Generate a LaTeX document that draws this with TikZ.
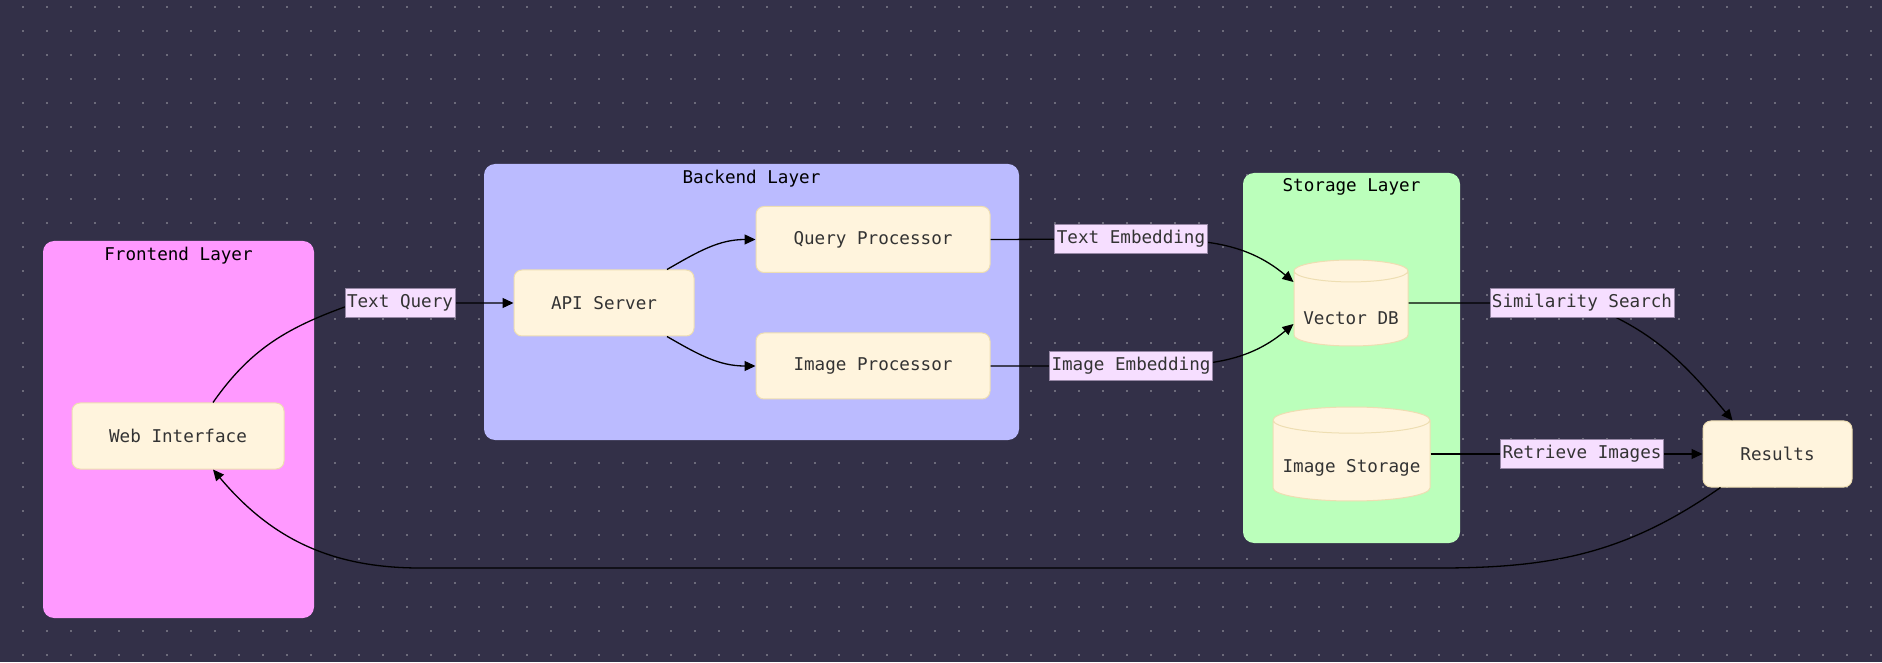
\documentclass[tikz,border=0pt]{standalone}
\usepackage{fontspec}
\newfontfamily\diagfont{DejaVu Sans Mono}
\usetikzlibrary{shapes}
\usetikzlibrary{positioning}
\usetikzlibrary{arrows.meta}
\definecolor{bgcol}{RGB}{51,48,72}
\definecolor{dotcol}{RGB}{108,106,122}
\definecolor{frontcol}{RGB}{255,153,255}
\definecolor{backcol}{RGB}{187,187,255}
\definecolor{storecol}{RGB}{187,255,187}
\definecolor{nodefill}{RGB}{255,244,221}
\definecolor{nodeline}{RGB}{238,222,178}
\definecolor{nodetext}{RGB}{51,51,51}
\definecolor{lblfill}{RGB}{246,222,255}
\definecolor{lblline}{RGB}{150,135,165}
\pgfdeclarelayer{base}
\pgfdeclarelayer{bg}
\pgfdeclarelayer{fg}
\pgfsetlayers{base,bg,main,fg}
\tikzstyle{layer} = [rectangle, rounded corners=11pt, inner sep=0pt, draw=none]
\tikzstyle{ltitle} = [font=\diagfont\fontsize{17.6}{20}\selectfont, text=black, inner sep=0pt]
\tikzstyle{proc} = [rectangle, rounded corners=8pt, fill=nodefill, draw=nodeline,
line width=1pt, minimum height=66pt, inner sep=0pt, text=nodetext,
font=\diagfont\fontsize{17.6}{20}\selectfont]
\tikzstyle{store} = [cylinder, shape border rotate=90, fill=nodefill, draw=nodeline,
line width=1pt, inner sep=0pt, text=nodetext, anchor=shape center,
text depth=4pt, font=\diagfont\fontsize{17.6}{20}\selectfont]
\tikzstyle{elabel} = [rectangle, fill=lblfill, draw=lblline, line width=0.8pt,
inner xsep=2pt, inner ysep=0pt, minimum height=29pt, text=nodetext,
font=\diagfont\fontsize{17.6}{20}\selectfont]
\tikzstyle{link} = [draw=black, line width=1.3pt]
\tikzset{>={Triangle[length=11pt,width=10pt]}}

\begin{document}
\begin{tikzpicture}[x=1pt, y=1pt]
  \useasboundingbox (0,0) rectangle (1882,662);
  \begin{pgfonlayer}{base}
    \fill[bgcol] (0,0) rectangle (1882,662);
    \foreach \x in {23,47,...,1871} {
      \foreach \y in {7,31,...,655} {
        \fill[dotcol] (\x-1,\y-1) rectangle +(2.2,2.2);
      }
    }
  \end{pgfonlayer}

  % layers
  \begin{pgfonlayer}{bg}
    \node[layer, fill=frontcol, minimum width=271pt, minimum height=377pt] (front) at (178.5,232.5) {};
    \node[layer, fill=backcol, minimum width=535pt, minimum height=276pt] (back) at (751.5,360) {};
    \node[layer, fill=storecol, minimum width=217pt, minimum height=370pt] (store) at (1351.5,304) {};
  \end{pgfonlayer}
  \node[ltitle] (fronttitle) at ([yshift=-15pt]front.north) {Frontend Layer};
  \node[ltitle] (backtitle) at ([yshift=-15pt]back.north) {Backend Layer};
  \node[ltitle] (storetitle) at ([yshift=-14pt]store.north) {Storage Layer};

  \node[proc, minimum width=212pt] (web) at (178,226) {Web Interface};
  \node[proc, minimum width=180pt] (api) at (604,359) {API Server};
  \node[proc, minimum width=234pt, right=61pt of api, yshift=63.5pt] (qp) {Query Processor};
  \node[proc, minimum width=234pt, right=61pt of api, yshift=-63pt] (ip) {Image Processor};
  \node[store, minimum width=114pt, minimum height=86pt, aspect=0.23, text height=36pt] (vdb) at (1351,359) {Vector DB};
  \node[store, minimum width=157pt, minimum height=94pt, aspect=0.19, text height=28pt] (imgs) at (1351.5,208) {Image Storage};
  \node[proc, minimum width=149pt] (res) at (1777.5,208) {Results};

  \begin{pgfonlayer}{fg}
    \node[elabel] (tq) at (400,359) {Text Query};
    \node[elabel] (temb) at (1131,423) {Text Embedding};
    \node[elabel] (iemb) at (1131,296) {Image Embedding};
    \node[elabel] (sim) at (1582,359) {Similarity Search};
    \node[elabel] (ret) at (1582,208) {Retrieve Images};
  \end{pgfonlayer}

  \coordinate (rb) at (1440,94);
  \coordinate (lb) at (420,94);

  \draw[link,->] ([xshift=35pt]web.north) to[out=55,in=200] ([yshift=-4pt]tq.west) -- (tq.center) -- (api.west);
  \draw[link,->] ([xshift=63pt]api.north) to[out=30,in=180] (qp.west);
  \draw[link,->] ([xshift=63pt]api.south) to[out=-30,in=180] (ip.west);
  \draw[link,->] (qp.east) -- (temb.center) to[out=0,in=140] ([yshift=21pt]vdb.west |- vdb.shape center);
  \draw[link,->] (ip.east) -- (iemb.center) to[out=0,in=220] ([yshift=-21pt]vdb.west |- vdb.shape center);
  \draw[link,->] (vdb.east |- vdb.shape center) -- (sim.west |- vdb.shape center) -- (sim.center) to[out=-20,in=130] ([xshift=-45pt]res.north);
  \draw[link,->] (imgs.east |- imgs.shape center) -- (ret.center) -- (res.west);
  \draw[link,->] ([xshift=-57pt]res.south) to[out=-145,in=0] (rb) -- (lb) to[out=180,in=-50] ([xshift=35pt]web.south);
\end{tikzpicture}
\end{document}
